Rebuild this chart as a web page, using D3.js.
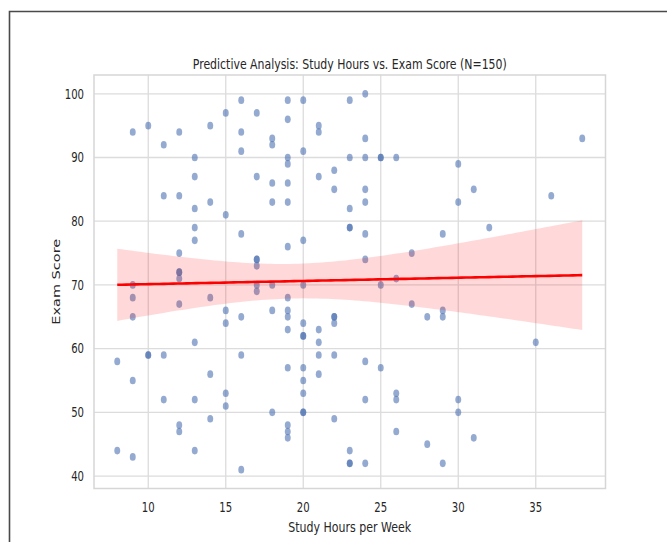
<!DOCTYPE html>
<html>
<head>
<meta charset="utf-8">
<script src="https://cdn.jsdelivr.net/npm/d3@7"></script>
<style>
  body { margin: 0; background: #fff; }
  svg { display: block; }
  text { font-family: "DejaVu Sans", sans-serif; fill: #262626; }
</style>
</head>
<body>
<svg id="chart" width="667" height="542"></svg>
<script>
  // study hours per week and exam score, one entry per student (N=150)
  const hours = [
    9, 10, 11, 12, 13, 13, 14, 15, 16, 16, 16, 17, 17, 11, 12, 13, 14, 15, 13, 13, 16, 12, 17, 17, 17, 12, 12, 12,
    18, 18, 19, 20, 19, 19, 19, 20, 21, 21, 22, 21, 22, 23, 24, 24, 23, 24, 25, 25, 26, 18, 19, 18, 19, 24, 24, 23,
    23, 23, 24, 19, 20, 27, 24, 26, 29, 38, 30, 31, 30, 36, 32,
    9, 9, 12, 14, 9, 17, 17, 15, 15, 16, 18, 13, 8, 10, 10, 11, 16, 9, 14, 11, 13, 15, 15, 12, 12, 14, 8, 9, 13, 16,
    18, 20, 25, 19, 27, 19, 19, 20, 19, 20, 20, 21, 22, 22, 22, 21, 21, 22, 28, 29, 29, 24, 25, 19, 20, 20, 21, 20,
    24, 26, 26, 18, 20, 20, 22, 19, 19, 19, 26, 23, 23, 23, 24, 28, 29, 35, 30, 30, 31,
  ];
  const scores = [
    94, 95, 92, 94, 90, 87, 95, 97, 99, 94, 91, 97, 87, 84, 84, 82, 83, 81, 79, 77, 78, 75, 74, 74, 73, 72, 72, 71,
    93, 92, 99, 99, 96, 90, 89, 91, 95, 94, 88, 87, 85, 99, 100, 93, 90, 90, 90, 90, 90, 86, 86, 83, 83, 85, 83, 82,
    79, 79, 78, 76, 77, 75, 74, 71, 78, 93, 89, 85, 83, 84, 79,
    70, 68, 67, 68, 65, 70, 69, 66, 64, 65, 66, 61, 58, 59, 59, 59, 59, 55, 56, 52, 52, 53, 51, 48, 47, 49, 44, 43, 44, 41,
    70, 70, 70, 68, 67, 66, 65, 64, 63, 62, 62, 63, 65, 65, 64, 61, 59, 59, 65, 66, 65, 58, 57, 57, 57, 55, 56, 53,
    52, 53, 52, 50, 50, 50, 49, 48, 47, 46, 47, 44, 42, 42, 42, 45, 42, 61, 52, 50, 46,
  ];
  const xTicks = [10, 15, 20, 25, 30, 35];
  const yTicks = [40, 50, 60, 70, 80, 90, 100];

  const title = `Predictive Analysis: Study Hours vs. Exam Score (N=${hours.length})`;
  const xLabel = "Study Hours per Week";
  const yLabel = "Exam Score";

  // the picture is squeezed sideways, so text and dots are narrowed too
  const squeeze = 0.76;
  const plot = { left: 94, right: 605.5, top: 75, bottom: 488.5 };

  const svg = d3.select("#chart");

  const pad = (lo, hi) => [lo - (hi - lo) * 0.05, hi + (hi - lo) * 0.05];
  const x = d3.scaleLinear().domain(pad(d3.min(hours), d3.max(hours))).range([plot.left, plot.right]);
  const y = d3.scaleLinear().domain(pad(d3.min(scores), d3.max(scores))).range([plot.bottom, plot.top]);

  // ordinary least squares fit with a 95% confidence band
  const n = hours.length;
  const mx = d3.mean(hours);
  const my = d3.mean(scores);
  const sxx = d3.sum(hours, (h) => (h - mx) ** 2);
  const sxy = d3.sum(hours, (h, i) => (h - mx) * (scores[i] - my));
  const slope = sxy / sxx;
  const intercept = my - slope * mx;
  const sse = d3.sum(hours, (h, i) => (scores[i] - (intercept + slope * h)) ** 2);
  const s = Math.sqrt(sse / (n - 2));
  const tCrit = 1.976;
  const fit = d3.range(0, 101).map((k) => {
    const h = d3.min(hours) + (k / 100) * (d3.max(hours) - d3.min(hours));
    const yhat = intercept + slope * h;
    const se = s * Math.sqrt(1 / n + (h - mx) ** 2 / sxx);
    return { h, yhat, lo: yhat - tCrit * se, hi: yhat + tCrit * se };
  });

  // outer frame of the screenshot
  svg.append("path")
    .attr("d", "M9.5,542V11.5H667")
    .attr("fill", "none")
    .attr("stroke", "#4a4a4a")
    .attr("stroke-width", 1.6);

  // grid
  const grid = svg.append("g").attr("stroke", "#dcdcdc").attr("stroke-width", 1.3);
  grid.selectAll("line.gx")
    .data(xTicks)
    .join("line")
    .attr("class", "gx")
    .attr("x1", (d) => x(d)).attr("x2", (d) => x(d))
    .attr("y1", plot.top).attr("y2", plot.bottom);
  grid.selectAll("line.gy")
    .data(yTicks)
    .join("line")
    .attr("class", "gy")
    .attr("x1", plot.left).attr("x2", plot.right)
    .attr("y1", (d) => y(d)).attr("y2", (d) => y(d));

  svg.append("rect")
    .attr("x", plot.left).attr("y", plot.top)
    .attr("width", plot.right - plot.left).attr("height", plot.bottom - plot.top)
    .attr("fill", "none")
    .attr("stroke", "#d6d6d6")
    .attr("stroke-width", 1.5);

  // scatter
  svg.append("g")
    .selectAll("ellipse")
    .data(hours.map((h, i) => ({ h, s: scores[i] })))
    .join("ellipse")
    .attr("cx", (d) => x(d.h))
    .attr("cy", (d) => y(d.s))
    .attr("rx", 3.9 * squeeze)
    .attr("ry", 3.85)
    .attr("fill", "#4c72b0")
    .attr("fill-opacity", 0.6);

  // confidence band and regression line
  svg.append("path")
    .datum(fit)
    .attr("fill", "#ff0000")
    .attr("fill-opacity", 0.15)
    .attr("d", d3.area().x((d) => x(d.h)).y0((d) => y(d.lo)).y1((d) => y(d.hi)));

  svg.append("path")
    .datum(fit)
    .attr("fill", "none")
    .attr("stroke", "#ff0000")
    .attr("stroke-width", 2.6)
    .attr("d", d3.line().x((d) => x(d.h)).y((d) => y(d.yhat)));

  const squeezed = (sel, tx, ty, rot) =>
    sel.attr("transform", `translate(${tx},${ty}) scale(${squeeze},1)${rot ? ` rotate(${rot})` : ""}`);

  // tick labels
  svg.append("g")
    .selectAll("text")
    .data(xTicks)
    .join("text")
    .attr("text-anchor", "middle")
    .attr("font-size", 13.3)
    .attr("fill", "#333")
    .each(function (d) { squeezed(d3.select(this), x(d), 512); })
    .text((d) => d);

  svg.append("g")
    .selectAll("text")
    .data(yTicks)
    .join("text")
    .attr("text-anchor", "end")
    .attr("dy", "0.36em")
    .attr("font-size", 13.3)
    .attr("fill", "#333")
    .each(function (d) { squeezed(d3.select(this), 84, y(d)); })
    .text((d) => d);

  squeezed(svg.append("text"), (plot.left + plot.right) / 2, 532)
    .attr("text-anchor", "middle")
    .attr("font-size", 14.5)
    .text(xLabel);

  squeezed(svg.append("text"), 59.5, (plot.top + plot.bottom) / 2, -90)
    .attr("text-anchor", "middle")
    .attr("font-size", 14.5)
    .text(yLabel);

  squeezed(svg.append("text"), (plot.left + plot.right) / 2, 69)
    .attr("text-anchor", "middle")
    .attr("font-size", 14.4)
    .text(title);
</script>
</body>
</html>
